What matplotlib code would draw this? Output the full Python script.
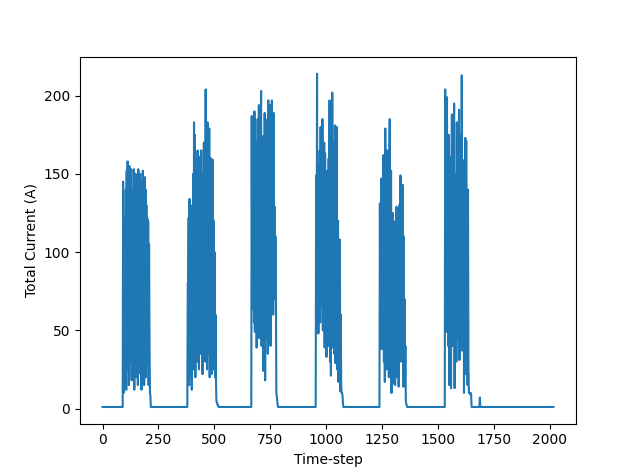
import numpy as np
import matplotlib
matplotlib.use("Agg")
import matplotlib.pyplot as plt

# flat stretches between the bursts: (first step, last step)
idle_ranges = [(0, 89), (216, 378), (521, 664), (786, 952), (1078, 1237),
               (1363, 1529), (1651, 1684), (1690, 2016)]
idle_level = 1

# bursts, read every 2nd time-step
burst_starts = [90, 379, 665, 953, 1238, 1530, 1685]

burst1 = [1, 145, 10, 122, 22, 100, 35, 140, 12, 152,
          25, 158, 40, 130, 15, 155, 30, 148, 50, 153,
          18, 140, 25, 135, 60, 153, 12, 110, 35, 150,
          20, 130, 45, 142, 15, 153, 30, 125, 55, 150,
          22, 145, 12, 130, 40, 152, 25, 120, 15, 148,
          35, 140, 20, 130, 50, 122, 28, 120, 15, 105,
          42, 10, 8]
burst2 = [1, 80, 78, 122, 15, 134, 20, 120, 45, 100,
          12, 130, 30, 150, 25, 183, 40, 175, 20, 160,
          55, 140, 30, 165, 45, 120, 25, 161, 60, 145,
          35, 165, 50, 130, 22, 150, 40, 170, 60, 140,
          30, 204, 45, 175, 25, 183, 55, 150, 35, 179,
          20, 140, 48, 160, 22, 130, 40, 159, 25, 120,
          35, 100, 20, 60, 20, 5, 4, 3, 2, 2, 1]
burst3 = [1, 187, 64, 180, 70, 150, 55, 190, 49, 185,
          60, 170, 39, 160, 75, 185, 51, 194, 45, 150,
          65, 180, 203, 40, 165, 60, 174, 24, 140, 50,
          189, 18, 170, 45, 155, 56, 185, 35, 197, 60,
          165, 53, 194, 40, 175, 70, 197, 88, 160, 60,
          189, 95, 129, 70, 110, 84, 10, 8, 5, 2, 1]
burst4 = [1, 149, 48, 214, 60, 155, 48, 130, 70, 165,
          55, 180, 65, 150, 74, 185, 50, 140, 60, 170,
          39, 163, 45, 130, 33, 152, 55, 120, 40, 160,
          52, 197, 30, 150, 21, 175, 45, 202, 39, 140,
          60, 170, 35, 181, 29, 130, 45, 180, 25, 110,
          120, 17, 90, 30, 108, 11, 60, 15, 10, 10,
          8, 3, 1]
burst5 = [1, 131, 42, 120, 147, 38, 110, 60, 140, 162,
          30, 150, 17, 179, 50, 120, 25, 165, 90, 40,
          160, 20, 150, 185, 30, 130, 152, 10, 110, 45,
          125, 16, 118, 60, 100, 15, 120, 35, 129, 20,
          95, 50, 115, 14, 130, 40, 100, 149, 30, 120,
          40, 60, 143, 14, 110, 25, 70, 14, 40, 5,
          3, 2, 1]
burst6 = [1, 204, 60, 150, 49, 199, 70, 130, 40, 175,
          15, 161, 55, 120, 13, 150, 188, 40, 140, 67,
          170, 195, 13, 150, 60, 120, 30, 183, 45, 140,
          70, 160, 191, 31, 130, 50, 175, 40, 213, 37,
          159, 60, 140, 10, 150, 45, 173, 22, 171, 50,
          120, 15, 140, 25, 10, 10, 10, 9, 10, 9, 1]
blip = [1, 7, 1]

bursts = [burst1, burst2, burst3, burst4, burst5, burst6, blip]

t = []
current = []
for i, (a, b) in enumerate(idle_ranges):
    t += [a, b]
    current += [idle_level, idle_level]
    if i < len(bursts):
        vals = bursts[i]
        t += list(np.arange(burst_starts[i], burst_starts[i] + 2 * len(vals), 2))
        current += vals

fig = plt.figure(figsize=(6.4, 4.76), dpi=100)
plt.plot(t, current)
plt.xlabel('Time-step')
plt.ylabel('Total Current (A)')
plt.savefig('out.png', dpi=100)
